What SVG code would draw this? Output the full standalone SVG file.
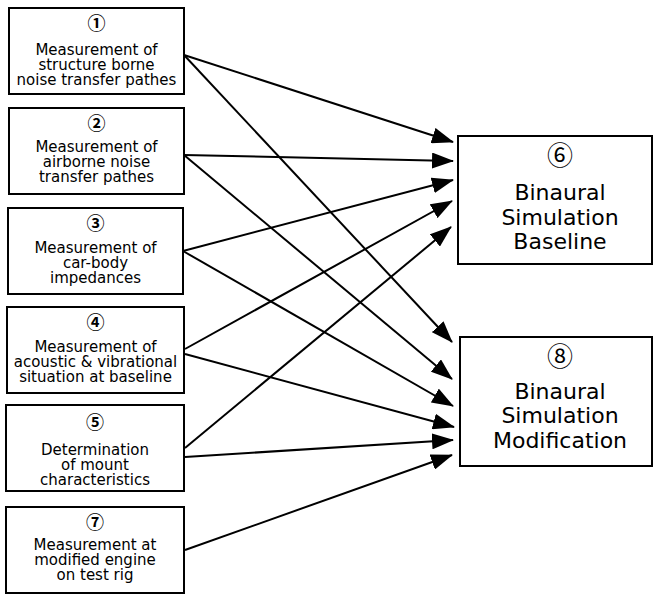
<svg xmlns="http://www.w3.org/2000/svg" width="654" height="595" viewBox="0 0 654 595">
<style>
  .box{fill:#fff;stroke:#000;stroke-width:2}
  .t{font-family:"DejaVu Sans","Noto Sans",sans-serif;font-size:15px;text-anchor:middle;fill:#000}
  .tb{font-family:"DejaVu Sans","Noto Sans",sans-serif;font-size:22px;text-anchor:middle;fill:#000}
  .n{font-family:"Noto Sans CJK SC","DejaVu Sans",sans-serif;font-size:18px;font-weight:bold;text-anchor:middle;dominant-baseline:central;fill:#000}
  .nb{font-family:"Noto Sans CJK SC","DejaVu Sans",sans-serif;font-size:26px;text-anchor:middle;dominant-baseline:central;fill:#000}
  .c{stroke:#000;stroke-width:2;fill:none;marker-end:url(#ah)}
</style>
<defs>
  <marker id="ah" markerWidth="22" markerHeight="16" refX="21" refY="8" orient="auto" markerUnits="userSpaceOnUse">
    <path d="M0,0 L22,8 L0,16 Z" fill="#000"/>
  </marker>
</defs>
<rect width="654" height="595" fill="#fff"/>
<g id="connectors">
  <line class="c" x1="184" y1="55" x2="453" y2="142"/>
  <line class="c" x1="184" y1="55" x2="452" y2="342"/>
  <line class="c" x1="184" y1="155" x2="453" y2="161"/>
  <line class="c" x1="184" y1="155" x2="452" y2="379"/>
  <line class="c" x1="183" y1="251" x2="453" y2="180"/>
  <line class="c" x1="183" y1="251" x2="453" y2="406"/>
  <line class="c" x1="185" y1="349" x2="452" y2="201"/>
  <line class="c" x1="185" y1="354" x2="454" y2="427"/>
  <line class="c" x1="185" y1="448" x2="451" y2="227"/>
  <line class="c" x1="185" y1="457" x2="453" y2="440"/>
  <line class="c" x1="185" y1="550" x2="452" y2="455"/>
</g>
<g id="node1">
  <rect class="box" x="9" y="8" width="175" height="86"/>
  <text class="n" x="96.5" y="22">①</text>
  <text class="t"><tspan x="96.5" y="55">Measurement of</tspan><tspan x="96.5" y="70">structure borne</tspan><tspan x="96.5" y="85">noise transfer pathes</tspan></text>
</g>
<g id="node2">
  <rect class="box" x="9" y="108" width="175" height="86"/>
  <text class="n" x="96.5" y="122">②</text>
  <text class="t"><tspan x="96.5" y="152">Measurement of</tspan><tspan x="96.5" y="167">airborne noise</tspan><tspan x="96.5" y="182">transfer pathes</tspan></text>
</g>
<g id="node3">
  <rect class="box" x="8" y="208" width="175" height="86"/>
  <text class="n" x="95.5" y="222">③</text>
  <text class="t"><tspan x="95.5" y="253">Measurement of</tspan><tspan x="95.5" y="268">car-body</tspan><tspan x="95.5" y="283">impedances</tspan></text>
</g>
<g id="node4">
  <rect class="box" x="7" y="307" width="177" height="86"/>
  <text class="n" x="95.5" y="321">④</text>
  <text class="t"><tspan x="95.5" y="352">Measurement of</tspan><tspan x="95.5" y="367">acoustic &amp; vibrational</tspan><tspan x="95.5" y="382">situation at baseline</tspan></text>
</g>
<g id="node5">
  <rect class="box" x="6" y="405" width="178" height="86"/>
  <text class="n" x="95" y="421">⑤</text>
  <text class="t"><tspan x="95" y="455">Determination</tspan><tspan x="95" y="470">of mount</tspan><tspan x="95" y="485">characteristics</tspan></text>
</g>
<g id="node7">
  <rect class="box" x="6" y="507" width="178" height="86"/>
  <text class="n" x="95" y="521">⑦</text>
  <text class="t"><tspan x="95" y="550">Measurement at</tspan><tspan x="95" y="565">modified engine</tspan><tspan x="95" y="580">on test rig</tspan></text>
</g>
<g id="node6">
  <rect class="box" x="458" y="136" width="194" height="128"/>
  <text class="nb" x="560" y="153">⑥</text>
  <text class="tb"><tspan x="560" y="200">Binaural</tspan><tspan x="560" y="225">Simulation</tspan><tspan x="560" y="249">Baseline</tspan></text>
</g>
<g id="node8">
  <rect class="box" x="460" y="337" width="192" height="129"/>
  <text class="nb" x="560" y="354">⑧</text>
  <text class="tb"><tspan x="560" y="399">Binaural</tspan><tspan x="560" y="423">Simulation</tspan><tspan x="560" y="448">Modification</tspan></text>
</g>
</svg>
